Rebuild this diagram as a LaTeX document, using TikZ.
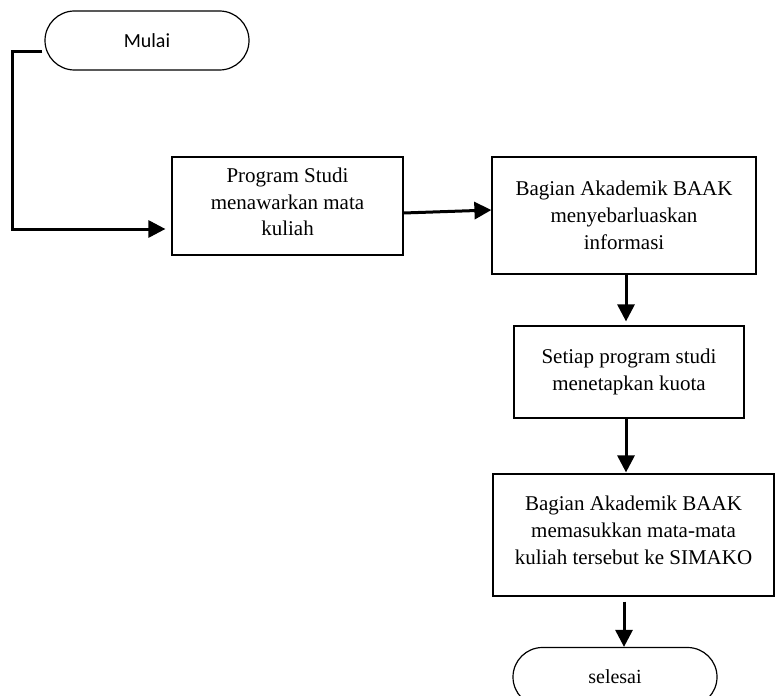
\documentclass[tikz,border=0pt]{standalone}
\usepackage{fontspec}
\setmainfont{Liberation Serif}
\newfontfamily\calib{Carlito}
\usetikzlibrary{shapes.misc,arrows.meta,calc}
\begin{document}
\begin{tikzpicture}[x=1pt,y=-1pt,
  procbox/.style={draw,line width=1.2pt,align=center,font=\fontsize{21}{26.7}\selectfont,inner sep=0pt},
  term/.style={draw,line width=1.2pt,rounded rectangle,minimum width=204pt,minimum height=59pt,inner sep=0pt},
  conn/.style={line width=3pt,-{Triangle[length=17pt,width=17pt]}}]
\useasboundingbox (0,0) rectangle (775,695);
\begin{scope}
\clip (0,0) rectangle (775,695);
\node[term,font=\calib\fontsize{20}{24}\selectfont] (mulai) at (147,40.5) {Mulai};
\node[procbox,minimum width=231pt,minimum height=98pt] (b1) at (287.5,206) {\mbox{}\\[-20pt]Program Studi\\menawarkan mata\\kuliah};
\node[procbox,minimum width=264pt,minimum height=117pt] (b2) at (624,215.5) {Bagian Akademik BAAK\\menyebarluaskan\\informasi};
\node[procbox,minimum width=230pt,minimum height=92pt] (b3) at (629,372) {Setiap program studi\\menetapkan kuota};
\node[procbox,minimum width=281pt,minimum height=122pt] (b4) at (633.5,535) {Bagian Akademik BAAK\\memasukkan mata-mata\\kuliah tersebut ke SIMAKO\\[-17pt]\mbox{}};
\node[term,font=\fontsize{20}{24}\selectfont] (sel) at (615,677) {selesai};
\coordinate (c1) at (12,52);
\coordinate (c2) at (12,229);
\draw[conn,shorten >=6pt] ($(mulai.west)+(-2,11.5)$) -- (c1) -- (c2) -- (c2 -| b1.west);
\draw[conn] ($(b1.east)+(0,7)$) -- ($(b2.west)+(0,-5.5)$);
\draw[conn,shorten >=4pt] (b2.south -| 626,0) -- (b3.north -| 626,0);
\draw[conn,shorten >=1pt] (b3.south -| 626,0) -- (b4.north -| 626,0);
\draw[conn,shorten <=5pt] (b4.south -| 624,0) -- (sel.north -| 624,0);
\end{scope}
\end{tikzpicture}
\end{document}
